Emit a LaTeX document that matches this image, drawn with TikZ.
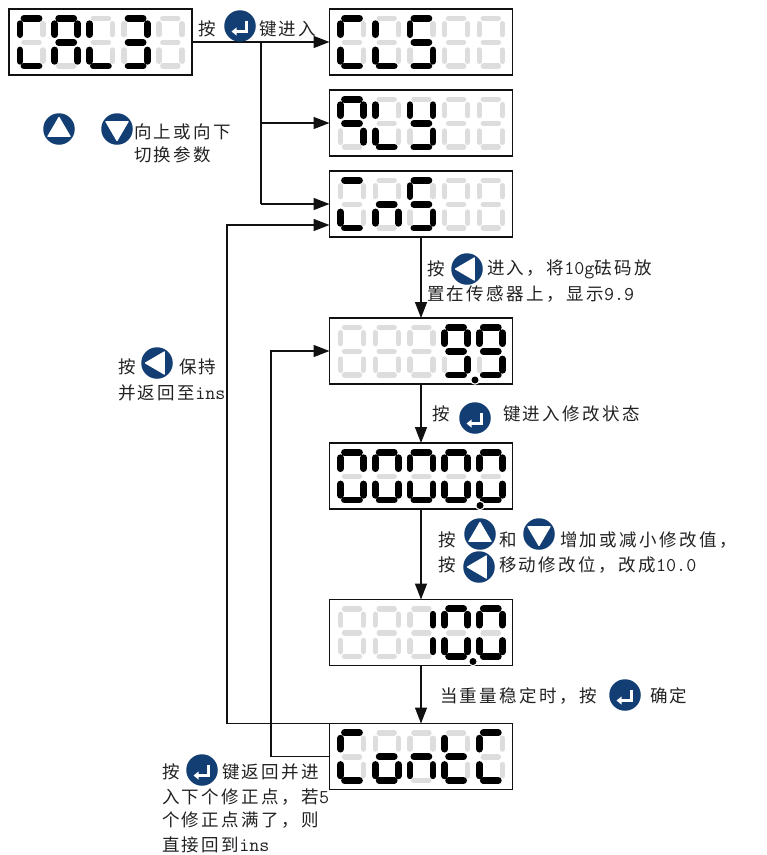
\documentclass[tikz,border=0pt]{standalone}
\usepackage{fontspec}
\usetikzlibrary{arrows.meta,calc}
\setmainfont{Noto Sans CJK SC}[LetterSpace=14]
\definecolor{btnblue}{HTML}{123E74}
\definecolor{segoff}{HTML}{DDDDDD}
\definecolor{ink}{HTML}{111111}
\definecolor{txt}{HTML}{222222}
\tikzset{
  dispbox/.style={draw=ink,line width=1.5pt,fill=white,minimum width=183pt,minimum height=66pt,inner sep=0pt,outer sep=0pt,anchor=north west},
  segon/.style={draw=black,line width=6.8pt,line cap=round},
  segoff/.style={draw=segoff,line width=5.4pt,line cap=round},
  btn/.style={circle,fill=btnblue,minimum size=31.5pt,inner sep=0pt,outer sep=0pt},
  sign/.style={fill=white,draw=white,line width=1.2pt,line join=round},
  conn/.style={draw=ink,line width=1.5pt},
  arr/.style={conn,-{Triangle[length=16pt,width=12pt]}},
  lbl/.style={anchor=west,inner sep=0pt,outer sep=0pt,text=txt,font=\fontsize{17.5}{20}\selectfont},
}
% segments, relative to the first digit's corner
\def\sga#1{\draw[#1] (15,9.3)--(30,9.3);}
\def\sgb#1{\draw[#1] (34,14.7)--(34,25.6);}
\def\sgc#1{\draw[#1] (34,41)--(34,52.3);}
\def\sgd#1{\draw[#1] (15,57)--(30,57);}
\def\sge#1{\draw[#1] (11,41)--(11,52.3);}
\def\sgf#1{\draw[#1] (11,14.7)--(11,25.6);}
\def\sgg#1{\draw[#1] (15,33.3)--(30,33.3);}
\def\sgn#1{}
\newcommand\dsp[4]{%
  \node[dispbox] (#1) at (#2,#3) {};
  \begin{scope}[shift={(#2,#3)}]
    \foreach \dg [count=\i from 0] in {#4} {
      \begin{scope}[shift={({\i*34.7},0)}]
        \foreach \s in {a,b,c,d,e,f,g} {\csname sg\s\endcsname{segoff}}
        \foreach \s in \dg {\csname sg\s\endcsname{segon}}
      \end{scope}
    }
  \end{scope}}
\newcommand\dotmark[2]{\fill[white] (#1,#2) circle (4.8pt); \fill[black] (#1,#2) circle (3.5pt);}
\newcommand\btnup[3]{\node[btn] (#1) at (#2,#3) {};
  \filldraw[sign] ($(#1)+(0,-11.5)$) -- ($(#1)+(11,7.3)$) -- ($(#1)+(-11,7.3)$) -- cycle;}
\newcommand\btndown[3]{\node[btn] (#1) at (#2,#3) {};
  \filldraw[sign] ($(#1)+(0,11.5)$) -- ($(#1)+(11,-7.3)$) -- ($(#1)+(-11,-7.3)$) -- cycle;}
\newcommand\btnleft[3]{\node[btn] (#1) at (#2,#3) {};
  \filldraw[sign] ($(#1)+(-11.5,0)$) -- ($(#1)+(7.3,-11)$) -- ($(#1)+(7.3,11)$) -- cycle;}
\newcommand\btnenter[3]{\node[btn] (#1) at (#2,#3) {};
  \draw[white,line width=2.4pt] ($(#1)+(6.3,-5.5)$) -- ($(#1)+(6.3,5.5)$) -- ($(#1)+(-4,5.5)$);
  \fill[white] ($(#1)+(-8.5,5.5)$) -- ($(#1)+(-3.5,1.5)$) -- ($(#1)+(-3.5,9.5)$) -- cycle;}
\newcommand\lt[4]{\node[lbl] (#1) at (#2,#3) {#4};}
\newcommand\la[1]{{\ttfamily\fontsize{19.5}{20}\selectfont #1}}
\begin{document}
\begin{tikzpicture}[x=1pt,y=-1pt]
\useasboundingbox (0,0) rectangle (767,855);
\fill[white] (0,0) rectangle (767,855);
% displays
\dsp{cal}{9}{9}{{a,f,e,d},{a,b,c,e,f,g},{f,e,d},{a,b,g,c,d},{n}}
\dsp{cls}{329.5}{9}{{a,f,e,d},{f,e,d},{a,f,g,c,d},{n},{n}}
\dsp{qty}{329.5}{90}{{a,b,f,g,c},{f,e,d},{b,f,g,c,d},{n},{n}}
\dsp{ins}{329.5}{171}{{a,e,d},{g,e,c},{a,f,g,c,d},{n},{n}}
\dsp{nine}{329.5}{318}{{n},{n},{n},{a,b,f,g,c,d},{a,b,f,g,c,d}}
\dotmark{475}{380}
\dsp{zero}{329.5}{443}{{a,b,c,d,e,f},{a,b,c,d,e,f},{a,b,c,d,e,f},{a,b,c,d,e,f},{a,b,c,d,e,f}}
\dotmark{480}{505.5}
\dsp{ten}{329.5}{599.5}{{n},{n},{b,c},{a,b,c,d,e,f},{a,b,c,d,e,f}}
\dotmark{473}{661.5}
\dsp{contl}{329.5}{723.5}{{a,f,e,d},{g,e,c,d},{g,e,c},{f,e,g,d},{a,f,e,d}}
% connectors
\coordinate (j1) at (261,42);
\coordinate (j2) at (261,123);
\coordinate (j3) at (261,204);
\coordinate (insA) at (329.5,225);
\coordinate (r2) at (227,225);
\coordinate (s2) at (271,351);
\draw[arr] (cal.east) -- (cls.west);
\draw[conn] (j1) -- (j3);
\draw[arr] (j2) -- (qty.west);
\draw[arr] (j3) -- (ins.west);
\draw[arr] (ins.south) -- (nine.north);
\draw[arr] (nine.south) -- (zero.north);
\draw[arr] (zero.south) -- (ten.north);
\draw[arr] (ten.south) -- (contl.north);
\draw[arr] (contl.north west) -| (r2) -- (insA);
\draw[arr] (contl.west) -| (s2) -- (nine.west);
% top
\lt{t1}{198}{29}{按}
\btnenter{b1}{240}{26}
\lt{t2}{259}{29}{键进入}
\btnup{b2}{59}{129}
\btndown{b3}{117}{129}
\lt{t3}{134}{132}{向上或向下}
\lt{t4}{134}{155}{切换参数}
% step to 9.9
\lt{t5}{427}{269}{按}
\btnleft{b4}{467}{269}
\lt{t6}{487}{269}{进入，将\la{10g}砝码放}
\lt{t7}{427}{294}{置在传感器上，显示\la{9.9}}
% modify
\lt{t8}{432}{414}{按}
\btnenter{b5}{475}{418}
\lt{t9}{503}{414}{键进入修改状态}
\lt{t10}{438}{540}{按}
\btnup{b6}{480}{534}
\lt{t11}{499}{540}{和}
\btndown{b7}{539}{534}
\lt{t12}{560}{540}{增加或减小修改值，}
\lt{t13}{438}{565}{按}
\btnleft{b8}{479}{567}
\lt{t14}{499}{565}{移动修改位，改成\la{10.0}}
\lt{t15}{440}{696}{当重量稳定时，按}
\btnenter{b9}{625}{695}
\lt{t16}{650}{696}{确定}
% left
\lt{t17}{118}{367}{按}
\btnleft{b10}{157}{363}
\lt{t18}{179}{367}{保持}
\lt{t19}{118}{393}{并返回至\la{ins}}
% bottom
\lt{t20}{162}{772}{按}
\btnenter{b11}{202}{770}
\lt{t21}{222}{772}{键返回并进}
\lt{t22}{162}{797}{入下个修正点，若\la{5}}
\lt{t23}{162}{820}{个修正点满了，则}
\lt{t24}{162}{845}{直接回到\la{ins}}
\end{tikzpicture}
\end{document}
